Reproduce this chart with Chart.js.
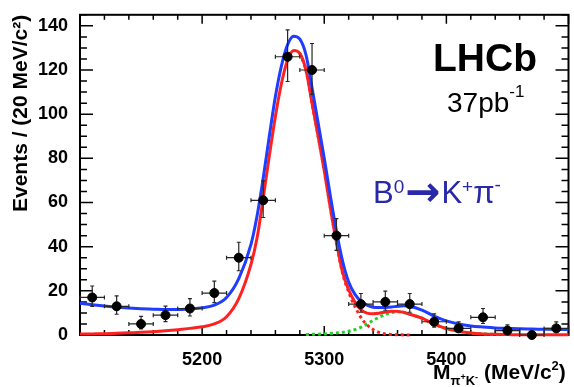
<!DOCTYPE html>
<html>
<head>
<meta charset="utf-8">
<script src="https://cdn.jsdelivr.net/npm/chart.js@4.4.1/dist/chart.umd.min.js"></script>
<style>
  html, body { margin: 0; padding: 0; background: #fff; }
  #wrap { width: 574px; height: 387px; }
</style>
</head>
<body>
<div id="wrap"><canvas id="mass-chart" width="574" height="387"></canvas></div>
<script>
// B0 -> K+ pi- invariant mass, 20 MeV/c2 bins
const binCenters = [5110, 5130, 5150, 5170, 5190, 5210, 5230, 5250, 5270, 5290,
                    5310, 5330, 5350, 5370, 5390, 5410, 5430, 5450, 5470, 5490];
const binHalfWidth = 10;
const events  = [17, 13, 5, 9, 12, 19, 35, 61, 126, 120, 45, 14, 15, 14, 6, 3, 8, 2, 0, 3];
const errDown = [4.1, 3.6, 2.2, 2.9, 3.4, 4.3, 5.9, 7.8, 11.2, 11.0, 6.7, 3.7, 3.8, 3.7, 2.4, 1.6, 2.8, 1.3, 0, 1.6];
const errUp   = [5.2, 4.7, 3.4, 4.1, 4.5, 5.4, 7.0, 8.8, 12.2, 12.0, 7.7, 4.8, 4.9, 4.8, 3.6, 2.9, 4.0, 2.6, 0, 2.9];

// fit curves
const fitMass = [5100, 5110, 5120, 5130, 5140, 5150, 5160, 5170, 5180, 5190, 5200, 5210, 5220, 5230,
                 5240, 5245, 5250, 5255, 5260, 5265, 5270, 5275, 5280, 5285, 5290, 5295, 5300, 5305,
                 5310, 5315, 5320, 5325, 5330, 5335, 5340, 5345, 5350, 5355, 5360, 5365, 5370, 5380,
                 5390, 5400, 5410, 5420, 5430, 5440, 5450, 5460, 5470, 5480, 5490, 5500];
const fitTotal = [14.4, 13.7, 13.1, 12.6, 12.2, 11.9, 11.7, 11.5, 11.5, 11.8, 12.3, 13.5, 17, 25.5,
                  41, 54, 71, 90, 108, 122, 131.5, 135.3, 134, 127, 112, 96, 80, 63,
                  47, 33.5, 24, 18.5, 15.3, 13.5, 12.6, 12.4, 12.5, 12.7, 13.0, 13.2, 13.0, 11.3,
                  8.6, 6.4, 5.0, 4.1, 3.6, 3.2, 3.0, 2.8, 2.7, 2.6, 2.5, 2.5];
const fitPeaks = [0.4, 0.5, 0.6, 0.8, 1.0, 1.2, 1.5, 1.9, 2.4, 3.0, 3.7, 5.0, 8.3, 16.5,
                  32, 44, 62, 81, 99, 114, 124.5, 128.8, 127.5, 120, 105, 90, 74.5, 57.5,
                  42, 28.5, 20.5, 15, 11.5, 9.9, 9.6, 9.9, 10.4, 10.8, 10.7, 10.3, 9.4, 7.6,
                  4.9, 2.9, 1.7, 0.9, 0.5, 0.3, 0.2, 0.1, 0.1, 0.1, 0.1, 0.1];
const sigMass = [5280, 5285, 5290, 5295, 5300, 5305, 5310, 5315, 5320, 5325, 5330, 5335, 5340,
                 5345, 5350, 5355, 5360, 5370];
const sigOnly = [127.5, 120, 105, 90, 74.5, 57.5, 41.8, 28, 19.5, 13, 8, 4.6, 2.5,
                 1.2, 0.5, 0.2, 0.1, 0];
const bsMass = [5285, 5290, 5300, 5310, 5320, 5330, 5340, 5350, 5360, 5370, 5380, 5390, 5400,
                5410, 5420, 5430, 5440, 5450];
const bsOnly = [0.2, 0.3, 0.5, 0.9, 1.7, 3.5, 6.6, 9.3, 10.5, 9.4, 7.6, 4.9, 2.9,
                1.7, 0.9, 0.5, 0.3, 0.2];

const xTickLabels = [5200, 5300, 5400];
const yTickLabels = [0, 20, 40, 60, 80, 100, 120, 140];

const FONT = "'Liberation Sans', Arial, Helvetica, sans-serif";

function pairs(xs, ys) {
  return xs.map((x, i) => ({ x, y: ys[i] }));
}

// frame and inward ticks on all four sides, ROOT style
const frameTicks = {
  id: 'frameTicks',
  beforeDatasetsDraw(chart) {
    const { ctx, chartArea: a, scales: { x, y } } = chart;
    ctx.save();
    ctx.strokeStyle = '#000';
    ctx.lineWidth = 1.5;
    ctx.beginPath();
    for (let v = x.min; v <= x.max; v += 20) {
      const px = x.getPixelForValue(v);
      const len = v % 100 === 0 ? 9 : 5;
      ctx.moveTo(px, a.bottom); ctx.lineTo(px, a.bottom - len);
      ctx.moveTo(px, a.top); ctx.lineTo(px, a.top + len);
    }
    for (let v = 0; v <= y.max; v += 5) {
      const py = y.getPixelForValue(v);
      const len = v % 20 === 0 ? 13 : 7;
      ctx.moveTo(a.left, py); ctx.lineTo(a.left + len, py);
      ctx.moveTo(a.right, py); ctx.lineTo(a.right - len, py);
    }
    ctx.stroke();
    ctx.lineWidth = 2;
    ctx.strokeRect(a.left, a.top, a.right - a.left, a.bottom - a.top);
    ctx.restore();
  }
};

// poisson error bars + bin width, drawn just under the markers
const errorBars = {
  id: 'errorBars',
  beforeDatasetDraw(chart, args) {
    if (args.index !== 0) return;
    const { ctx, scales: { x, y } } = chart;
    ctx.save();
    ctx.strokeStyle = '#262626';
    ctx.lineWidth = 1.2;
    ctx.beginPath();
    binCenters.forEach((m, i) => {
      const px = x.getPixelForValue(m);
      const py = y.getPixelForValue(events[i]);
      const xl = x.getPixelForValue(m - binHalfWidth);
      const xr = x.getPixelForValue(m + binHalfWidth);
      ctx.moveTo(xl, py); ctx.lineTo(xr, py);
      ctx.moveTo(xl, py - 2); ctx.lineTo(xl, py + 2);
      ctx.moveTo(xr, py - 2); ctx.lineTo(xr, py + 2);
      if (errUp[i] > 0) {
        const yt = y.getPixelForValue(events[i] + errUp[i]);
        const yb = y.getPixelForValue(events[i] - errDown[i]);
        ctx.moveTo(px, yt); ctx.lineTo(px, yb);
        ctx.moveTo(px - 2, yt); ctx.lineTo(px + 2, yt);
        ctx.moveTo(px - 2, yb); ctx.lineTo(px + 2, yb);
      }
    });
    ctx.stroke();
    ctx.restore();
  }
};

// pieces of text with super/subscripts
function drawPieces(ctx, x, pieces) {
  pieces.forEach(p => {
    ctx.font = p.font;
    ctx.fillStyle = p.color || '#000';
    ctx.fillText(p.t, x, p.y);
    x += ctx.measureText(p.t).width + (p.gap || 0);
  });
}

const labels = {
  id: 'labels',
  afterDraw(chart) {
    const ctx = chart.ctx;
    ctx.save();
    ctx.textBaseline = 'alphabetic';
    ctx.textAlign = 'left';

    ctx.font = `bold 39px ${FONT}`;
    ctx.fillStyle = '#000';
    ctx.textAlign = 'right';
    ctx.fillText('LHCb', 537, 70.5);
    ctx.textAlign = 'left';

    drawPieces(ctx, 447, [
      { t: '37pb', font: `28px ${FONT}`, y: 111.5 },
      { t: '-1', font: `17px ${FONT}`, y: 97 },
    ]);

    const blue = '#2828a8';
    drawPieces(ctx, 373, [
      { t: 'B', font: `31px ${FONT}`, y: 203, color: blue },
      { t: '0', font: `19px ${FONT}`, y: 193, color: blue, gap: 1 },
      { t: '\u2192', font: `bold 42px 'DejaVu Sans', sans-serif`, y: 206, color: blue, gap: 1 },
      { t: 'K', font: `31px ${FONT}`, y: 203, color: blue },
      { t: '+', font: `19px ${FONT}`, y: 193, color: blue },
      { t: '\u03c0', font: `31px ${FONT}`, y: 203, color: blue },
      { t: '-', font: `19px ${FONT}`, y: 191, color: blue },
    ]);

    drawPieces(ctx, 433, [
      { t: 'M', font: `bold 21px ${FONT}`, y: 379 },
      { t: '\u03c0', font: `bold 13px ${FONT}`, y: 385 },
      { t: '+', font: `bold 9px ${FONT}`, y: 380 },
      { t: 'K', font: `bold 13px ${FONT}`, y: 385 },
      { t: '-', font: `bold 9px ${FONT}`, y: 380 },
      { t: ' (MeV/c', font: `bold 21px ${FONT}`, y: 379 },
      { t: '2', font: `bold 13px ${FONT}`, y: 370 },
      { t: ')', font: `bold 21px ${FONT}`, y: 379 },
    ]);
    ctx.restore();
  }
};

function curve(label, xs, ys, color, order, dash) {
  return {
    type: 'line',
    label,
    data: pairs(xs, ys),
    borderColor: color,
    borderWidth: 3,
    borderDash: dash || [],
    pointRadius: 0,
    fill: false,
    cubicInterpolationMode: 'monotone',
    clip: false,
    order,
  };
}

new Chart(document.getElementById('mass-chart'), {
  type: 'scatter',
  data: {
    datasets: [
      {
        label: 'Data',
        data: pairs(binCenters, events),
        backgroundColor: '#000',
        borderColor: '#000',
        pointRadius: 4.5,
        pointHoverRadius: 4.5,
        clip: false,
        order: 0,
      },
      curve('Total fit', fitMass, fitTotal, '#1f3cff', 1),
      curve('Signal + Bs', fitMass, fitPeaks, '#ff2020', 2),
      curve('B0 signal', sigMass, sigOnly, '#ff2020', 3, [3, 3]),
      curve('Bs', bsMass, bsOnly, '#22d022', 4, [3, 3]),
    ],
  },
  options: {
    responsive: false,
    animation: false,
    layout: { padding: { top: 8, right: 3, left: 0, bottom: 0 } },
    plugins: { legend: { display: false }, tooltip: { enabled: false } },
    scales: {
      x: {
        type: 'linear',
        min: 5100,
        max: 5500,
        grid: { display: false },
        border: { display: false },
        afterBuildTicks: axis => { axis.ticks = xTickLabels.map(v => ({ value: v })); },
        afterFit: axis => { axis.height = 52; },
        ticks: {
          padding: 6,
          color: '#000',
          font: { family: FONT, weight: 'bold', size: 18 },
          maxRotation: 0,
          callback: v => String(v),
        },
      },
      y: {
        type: 'linear',
        min: 0,
        max: 145,
        grid: { display: false },
        border: { display: false },
        afterBuildTicks: axis => { axis.ticks = yTickLabels.map(v => ({ value: v })); },
        afterFit: axis => { axis.width = 80; },
        ticks: {
          padding: 4,
          color: '#000',
          font: { family: FONT, weight: 'bold', size: 18 },
          callback: v => String(v),
        },
        title: {
          display: true,
          text: 'Events / (20 MeV/c\u00b2)',
          align: 'end',
          color: '#000',
          font: { family: FONT, weight: 'bold', size: 21 },
          padding: { top: 9, bottom: 0 },
        },
      },
    },
  },
  plugins: [frameTicks, errorBars, labels],
});
</script>
</body>
</html>
